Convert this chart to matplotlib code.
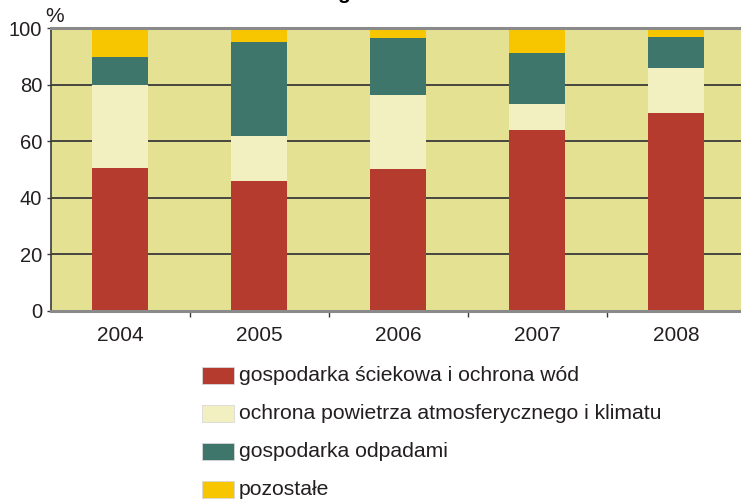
import matplotlib
matplotlib.use("Agg")
import matplotlib.pyplot as plt
from matplotlib.patches import Rectangle
import numpy as np

plt.rcParams['font.family'] = ['Liberation Sans', 'DejaVu Sans']

years = ['2004', '2005', '2006', '2007', '2008']
series_names = [
    'gospodarka ściekowa i ochrona wód',
    'ochrona powietrza atmosferycznego i klimatu',
    'gospodarka odpadami',
    'pozostałe',
]
scieki = [50.5, 46.0, 50.2, 64.0, 70.0]
powietrze = [29.5, 16.0, 26.2, 9.2, 16.0]
odpady = [10.0, 33.2, 20.2, 18.1, 11.0]
pozostale = [10.0, 4.8, 3.4, 8.7, 3.0]
yticks = [0, 20, 40, 60, 80, 100]

colors = ['#B53B2E', '#F2EFC0', '#3E766C', '#F7C600']
bg = '#E4E292'
text_col = '#231F20'

W, H = 741, 500
fig = plt.figure(figsize=(W / 100, H / 100), dpi=100)
ax = fig.add_axes([50.5 / W, (H - 311) / H, 695 / W, (311 - 28.3) / H])
ax.set_facecolor(bg)

x = np.arange(len(years))
bottom = np.zeros(len(years))
for vals, c in zip([scieki, powietrze, odpady, pozostale], colors):
    ax.bar(x, vals, width=0.4, bottom=bottom, color=c, zorder=3, linewidth=0)
    bottom += np.array(vals)

ax.set_xlim(-0.5, 4.5)
ax.set_ylim(0, 100)

# gridlines
for v in yticks[1:-1]:
    ax.axhline(v, color='#3a3a3a', lw=1.3, zorder=1)
ax.axhline(100, color='#8a8a8a', lw=2.2, zorder=4, clip_on=False)

for s in ['top', 'right']:
    ax.spines[s].set_visible(False)
ax.spines['bottom'].set_color('#8a8a8a')
ax.spines['bottom'].set_linewidth(2.2)
ax.spines['bottom'].set_zorder(5)
ax.spines['left'].set_color('#3a3a3a')
ax.spines['left'].set_linewidth(1.2)

ax.set_yticks(yticks)
ax.set_yticklabels([str(v) for v in yticks], fontsize=14.5, color=text_col)
ax.tick_params(axis='y', length=3, width=1, color='#3a3a3a', pad=3)

ax.set_xticks(x)
ax.set_xticklabels(years, fontsize=15, color=text_col)
ax.set_xticks(np.arange(0.5, 4.5, 1), minor=True)
ax.tick_params(axis='x', which='major', length=0, pad=11)
ax.tick_params(axis='x', which='minor', length=4, width=1, color='#3a3a3a')

fig.text(54.5 / W, 1 - 16.5 / H, '%', fontsize=15, color=text_col, va='center', ha='center')

# clipped title descender visible at very top
fig.text(343 / W, 1 + 1 / H, 'g', fontsize=15, fontweight='bold', color='black',
         ha='center', va='baseline')

# legend
row_y = [375.5, 413.5, 451.5, 489.5]
for name, c, yy in zip(series_names, colors, row_y):
    fig.add_artist(Rectangle((201.5 / W, 1 - (yy + 8.5) / H), 32 / W, 17 / H,
                             transform=fig.transFigure, facecolor=c,
                             edgecolor='#d8d8d8', lw=0.6))
    fig.text(239 / W, 1 - yy / H, name, fontsize=15.2, color=text_col,
             va='center', ha='left')

fig.savefig('out.png', dpi=100)
